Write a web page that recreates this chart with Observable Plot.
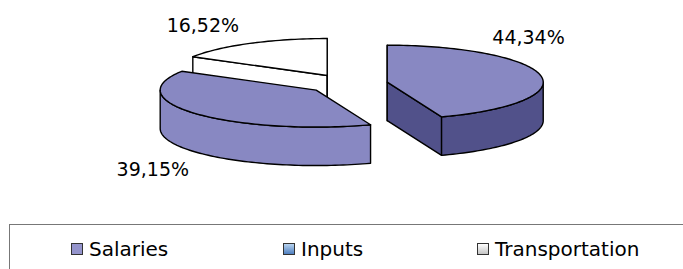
<!DOCTYPE html>
<html><head><meta charset="utf-8">
<script src="https://cdn.jsdelivr.net/npm/d3@7"></script>
<script src="https://cdn.jsdelivr.net/npm/@observablehq/plot@0.6"></script>
<style>
html,body{margin:0;padding:0;background:#fff;}
#wrap{position:relative;width:683px;height:269px;overflow:hidden;font-family:"DejaVu Sans",Verdana,sans-serif;}
#chart svg{display:block;}
#legend{position:absolute;left:9px;top:224px;width:720px;height:80px;border:1px solid #777;box-sizing:border-box;}
.sw{position:absolute;top:243px;width:12px;height:12px;border:1px solid #333;box-sizing:border-box;}
.lt{position:absolute;top:239px;font-size:20px;line-height:20px;color:#000;white-space:nowrap;}
</style></head>
<body><div id="wrap"><div id="chart"></div><div id="legend"></div></div>
<script>
// ---- data ----
const categories = ["Salaries", "Inputs", "Transportation"];
const shares = [44.34, 39.15, 16.52];
const shareLabels = ["44,34%", "39,15%", "16,52%"];
const sliceTop = ["#8888c2", "#8888c2", "#ffffff"];
const sliceSide = ["#51518a", "#8888c2", "#ffffff"];
const legendSwatch = [
  "#9494cc",
  "linear-gradient(#b8d4f0, #4f7fbf)",
  "linear-gradient(#ffffff, #c4c4c4)"
];

// ---- layout ----
const W = 683, H = 224;
const rx = 156, ry = 37, depth = 38.5;
const cx0 = 346.8, cy0 = 83.4, explode = 0.26;
const labelRx = 170, labelRy = 60;
const labelNudge = [[-26, -34], [-33, 41], [-40, 2]];
const legendX = [71, 283, 477];

const total = d3.sum(shares);
let acc = 0;
const slices = shares.map((v, i) => {
  const a0 = acc / total * 2 * Math.PI; acc += v;
  const a1 = acc / total * 2 * Math.PI;
  const m = (a0 + a1) / 2;
  return {i, a0, a1, m,
    cx: cx0 + explode * rx * Math.sin(m),
    cy: cy0 - explode * ry * Math.cos(m)};
});
const pt = (s, a, dz = 0) => ({x: s.cx + rx * Math.sin(a), y: s.cy - ry * Math.cos(a) + dz});
const arc = (s, a0, a1, dz = 0) => {
  const n = Math.max(2, Math.ceil(Math.abs(a1 - a0) / (Math.PI / 120)));
  return d3.range(n + 1).map(k => pt(s, a0 + (a1 - a0) * k / n, dz));
};

const faces = [];
const order = slices.slice().sort((a, b) => a.cy - b.cy);
for (const s of order) {
  const c = {x: s.cx, y: s.cy}, cb = {x: s.cx, y: s.cy + depth};
  // cut faces
  for (const [a, phi] of [[s.a0, s.a0 - Math.PI / 2], [s.a1, s.a1 + Math.PI / 2]]) {
    if (Math.cos(phi) <= 1e-6) {
      faces.push({fill: sliceSide[s.i], pts: [c, pt(s, a), pt(s, a, depth), cb]});
    }
  }
  // outer curved side (front half only)
  const lo = Math.max(s.a0, Math.PI / 2), hi = Math.min(s.a1, 3 * Math.PI / 2);
  if (hi > lo) {
    faces.push({fill: sliceSide[s.i], pts: arc(s, lo, hi, 0).concat(arc(s, hi, lo, depth))});
  }
  // top face
  faces.push({fill: sliceTop[s.i], pts: [c].concat(arc(s, s.a0, s.a1, 0))});
}

const labelData = slices.map(s => ({
  text: shareLabels[s.i],
  x: s.cx + labelRx * Math.sin(s.m) + labelNudge[s.i][0],
  y: s.cy - labelRy * Math.cos(s.m) + labelNudge[s.i][1]
}));

const plot = Plot.plot({
  width: W, height: H, margin: 0,
  style: {background: "white", fontFamily: "DejaVu Sans, Verdana, sans-serif"},
  x: {domain: [0, W], range: [0, W], axis: null},
  y: {domain: [0, H], range: [0, H], axis: null},
  marks: [
    ...faces.map(f => Plot.line(f.pts, {
      x: "x", y: "y", fill: f.fill, stroke: "#000", strokeWidth: 1.4,
      curve: "linear-closed", strokeLinejoin: "round"
    })),
    Plot.text(labelData, {x: "x", y: "y", text: "text", fontSize: 19, fill: "#000"})
  ]
});
document.getElementById("chart").appendChild(plot);

const wrap = document.getElementById("wrap");
categories.forEach((name, i) => {
  const sw = document.createElement("div");
  sw.className = "sw";
  sw.style.left = legendX[i] + "px";
  sw.style.background = legendSwatch[i];
  wrap.appendChild(sw);
  const t = document.createElement("div");
  t.className = "lt";
  t.style.left = (legendX[i] + 18) + "px";
  t.textContent = name;
  wrap.appendChild(t);
});
</script>
</body></html>
